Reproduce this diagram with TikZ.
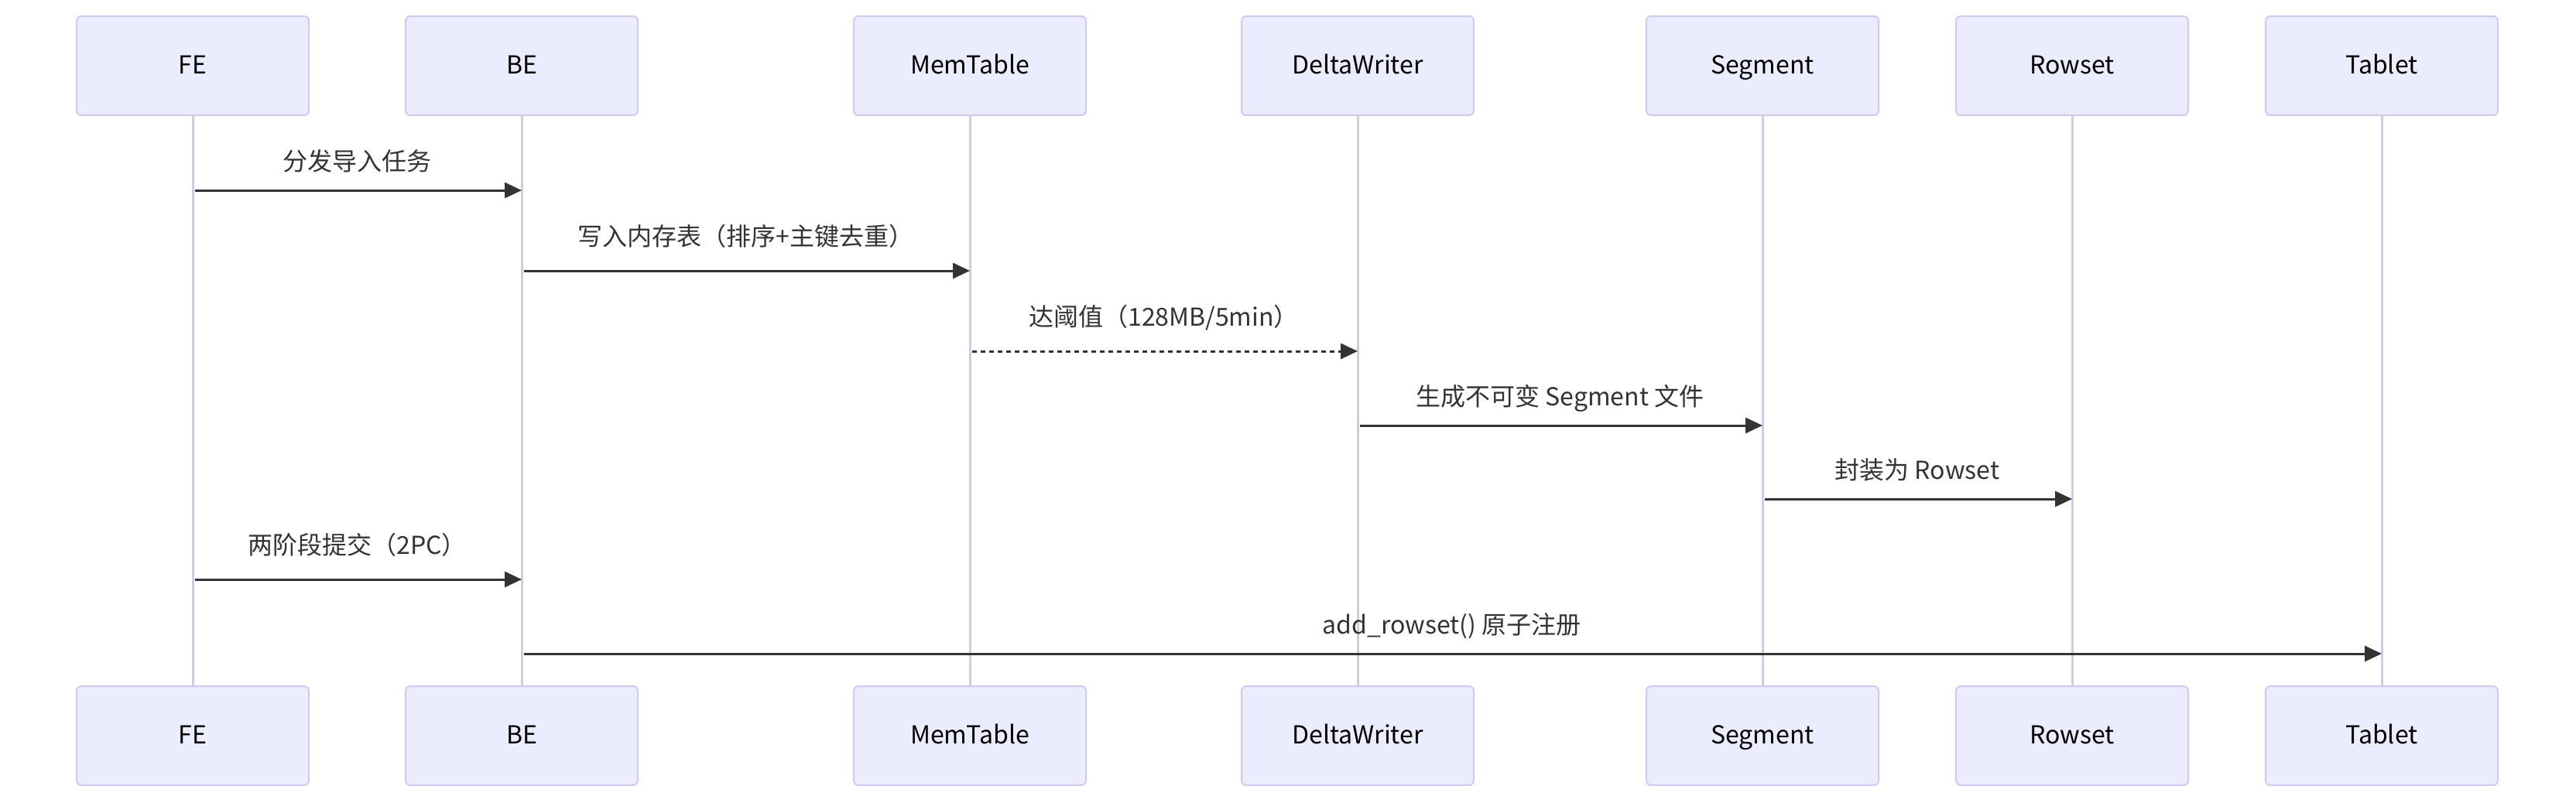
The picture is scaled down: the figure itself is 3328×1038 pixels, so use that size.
\documentclass[tikz,border=0pt]{standalone}
\usepackage{fontspec}
\setmainfont{Noto Sans CJK SC}
\usetikzlibrary{arrows.meta,positioning}
\definecolor{actorfill}{HTML}{ECECFF}
\definecolor{actorline}{HTML}{D3C9F0}
\definecolor{msgcol}{HTML}{333333}

\begin{document}
\begin{tikzpicture}[
  x=1pt, y=-1pt,
  every node/.style={font=\fontsize{32}{38}\selectfont},
  actor/.style={rectangle, rounded corners=6pt, draw=actorline, line width=2pt, fill=actorfill, minimum width=300pt, minimum height=128pt, text height=21pt, text depth=0pt},
  life/.style={draw=actorline, line width=3pt},
  msg/.style={-{Triangle[length=22pt,width=20pt]}, line width=3pt, draw=msgcol, shorten <=3pt},
  lbl/.style={text=msgcol, text height=8pt, text depth=2pt, yshift=29pt},
  lblp/.style={lbl, yshift=7pt}
]
  \useasboundingbox (0,0) rectangle (3328,1038);
  % participants, top and bottom, with lifelines
  \foreach \id/\xx/\name in {fe/249/FE, be/674/BE, mem/1253/MemTable, dw/1754/DeltaWriter, seg/2277/Segment, rs/2677/Rowset, tab/3077/Tablet} {
    \draw[life] (\xx,150) -- (\xx,886);
    \node[actor] (\id) at (\xx,85) {\name};
    \node[actor] (\id2) at (\xx,951) {\name};
  }
  % message rows
  \coordinate (r1) at (0,246);
  \coordinate (r2) at (0,350);
  \coordinate (r3) at (0,454);
  \coordinate (r4) at (0,550);
  \coordinate (r5) at (0,645);
  \coordinate (r6) at (0,749);
  \coordinate (r7) at (0,845);
  \draw[msg] (fe |- r1) -- (be |- r1) node[midway, lbl] {分发导入任务};
  \draw[msg] (be |- r2) -- (mem |- r2) node[midway, lblp] {写入内存表（排序+主键去重）};
  \draw[msg, dash pattern=on 6pt off 5pt] (mem |- r3) -- (dw |- r3) node[midway, lblp] {达阈值（128MB/5min）};
  \draw[msg] (dw |- r4) -- (seg |- r4) node[midway, lbl] {生成不可变 Segment 文件};
  \draw[msg] (seg |- r5) -- (rs |- r5) node[midway, lbl] {封装为 Rowset};
  \draw[msg] (fe |- r6) -- (be |- r6) node[midway, lblp] {两阶段提交（2PC）};
  \draw[msg] (be |- r7) -- (tab |- r7) node[midway, lbl] {add\_rowset() 原子注册};
\end{tikzpicture}
\end{document}
